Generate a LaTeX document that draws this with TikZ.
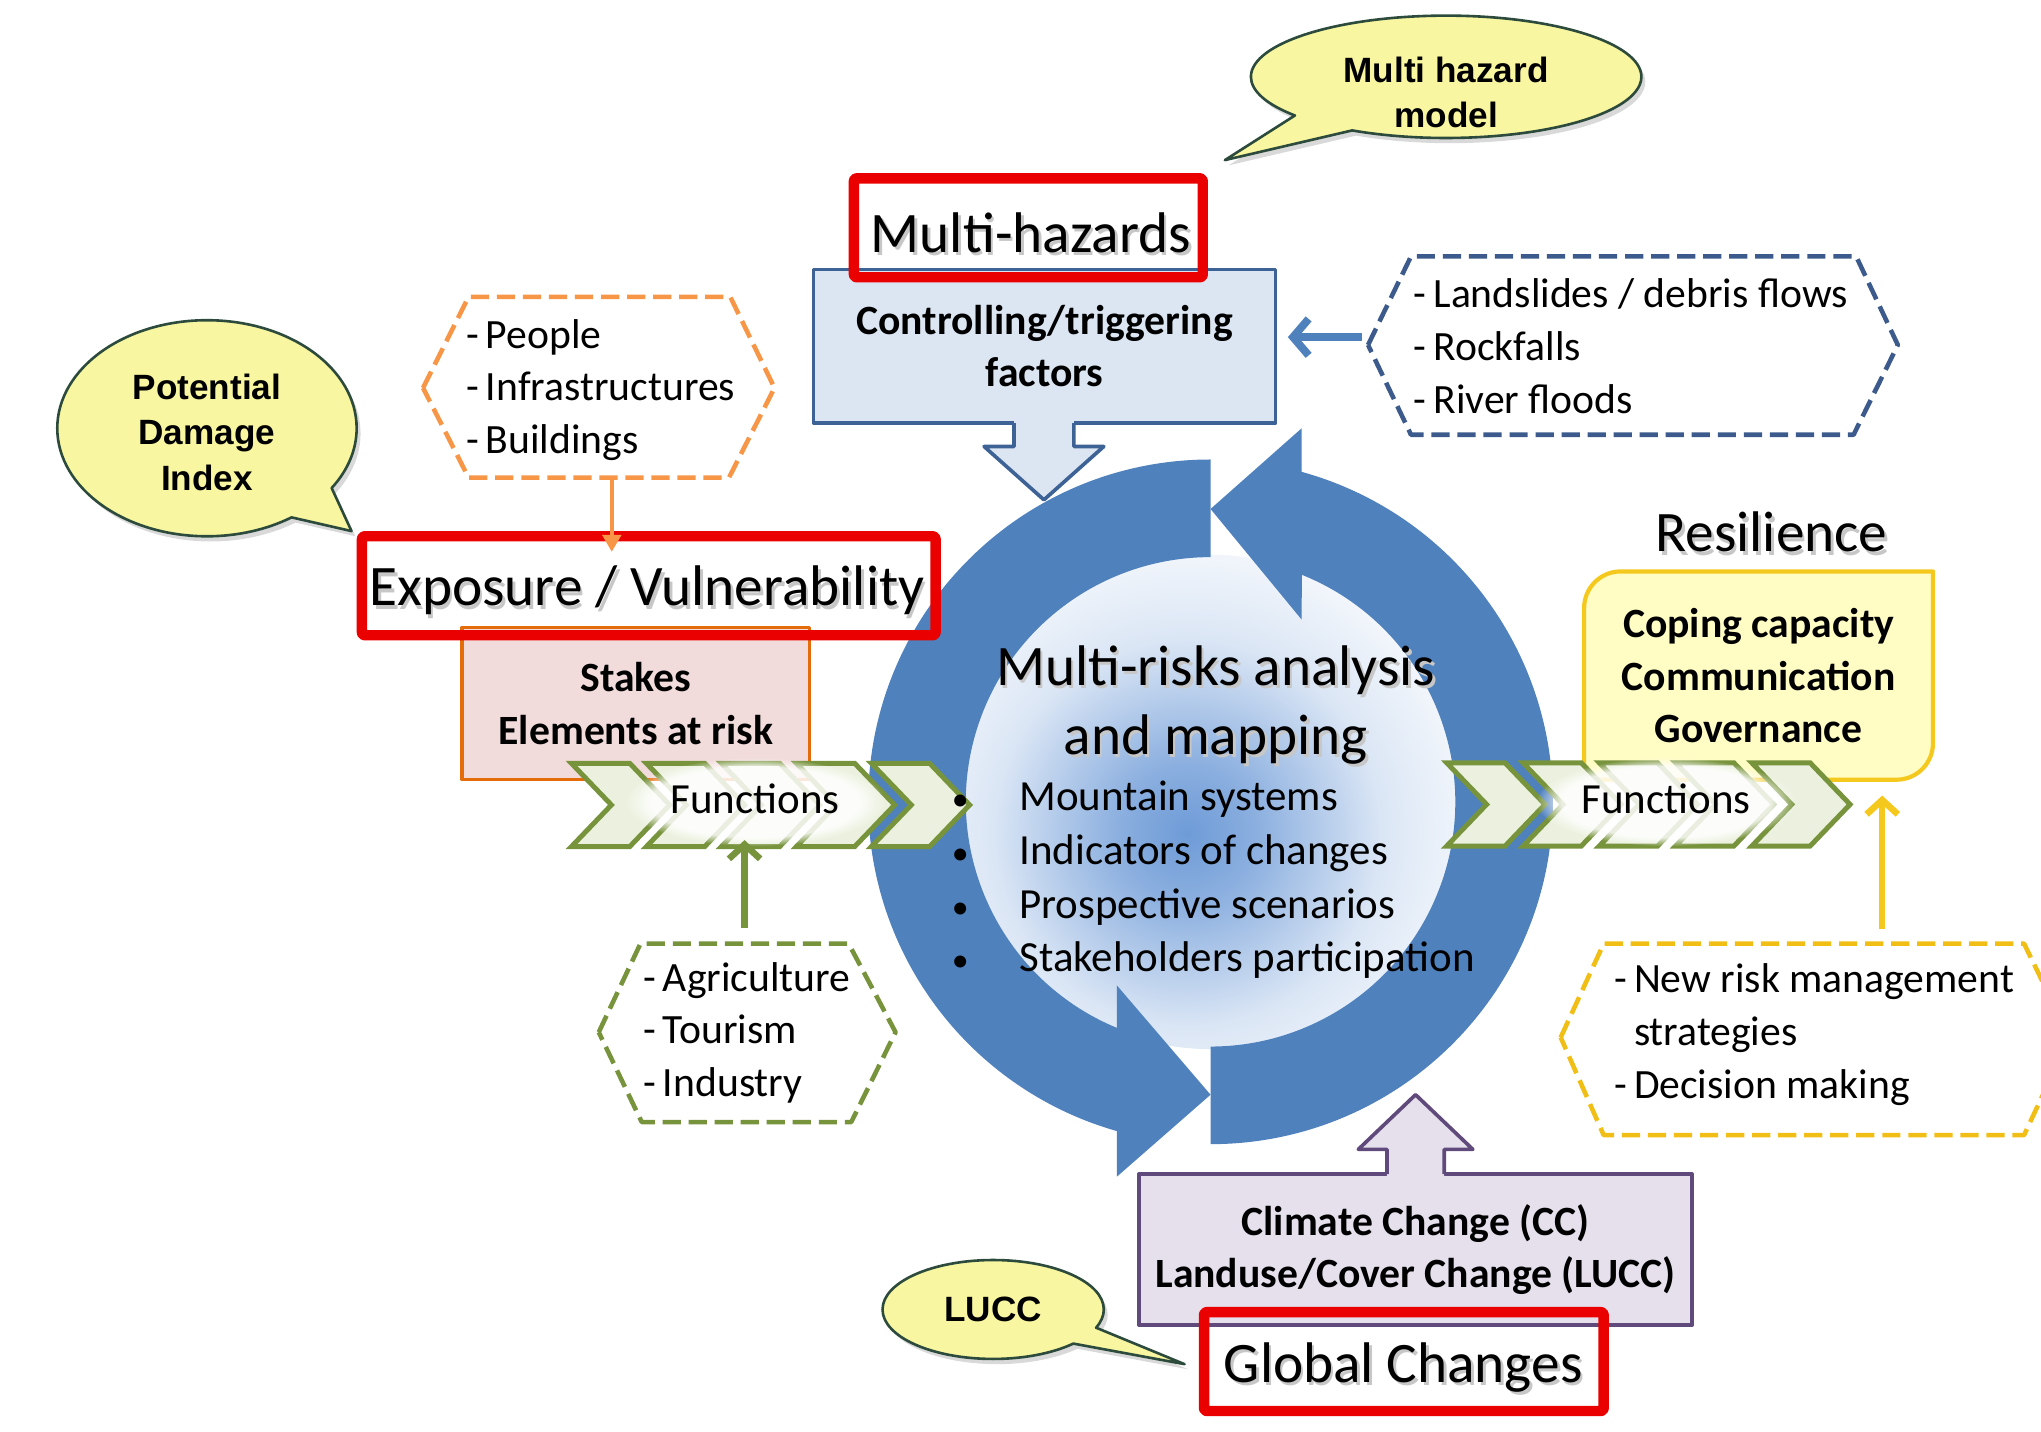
\documentclass[tikz,border=0pt]{standalone}
\usepackage{fontspec}
\setmainfont{Carlito}
\newfontfamily\bubblefont{Liberation Sans}
\usetikzlibrary{arrows.meta,shapes.callouts,shapes.geometric,shadows,calc,fadings}
\definecolor{ringblue}{RGB}{79,129,189}
\definecolor{ctrlfill}{RGB}{220,230,242}
\definecolor{ctrlline}{RGB}{60,98,150}
\definecolor{bhexline}{RGB}{60,90,140}
\definecolor{ohexline}{RGB}{247,150,70}
\definecolor{stakefill}{RGB}{242,220,219}
\definecolor{stakeline}{RGB}{228,108,10}
\definecolor{chevfill}{RGB}{235,241,222}
\definecolor{chevline}{RGB}{119,147,60}
\definecolor{yfill}{RGB}{255,252,196}
\definecolor{yline}{RGB}{245,200,30}
\definecolor{yhexline}{RGB}{240,190,20}
\definecolor{purfill}{RGB}{229,224,236}
\definecolor{purline}{RGB}{96,74,123}
\definecolor{redline}{RGB}{235,0,0}
\definecolor{bubfill}{RGB}{248,246,160}
\definecolor{bubline}{RGB}{45,75,60}
\definecolor{glowc}{RGB}{110,155,215}
\colorlet{glowb}{glowc!80!white}
\colorlet{glowd}{glowc!25!white}
\pgfdeclareradialshading{glow}{\pgfpoint{0bp}{0bp}}{color(0bp)=(glowc); color(6bp)=(glowb); color(17bp)=(glowd); color(29bp)=(white); color(50bp)=(white)}
\newcommand\shd[1]{\rlap{\kern2pt\raisebox{-2.5pt}{\color{black!22}#1}}#1}
\newcommand\blt{\makebox[52pt][l]{\fontsize{26}{26}\selectfont\textbullet}}
\begin{document}
\begin{tikzpicture}[x=1pt,y=-1pt,line join=round,
  title/.style={font=\fontsize{44}{53}\selectfont, inner sep=0pt},
  redbox/.style={draw=redline, line width=8pt, rounded corners=2pt},
  bubble/.style={ellipse callout, fill=bubfill, draw=bubline, line width=2pt, inner sep=0pt, callout pointer arc=22, drop shadow={opacity=0.3, shadow xshift=3pt, shadow yshift=-4pt}},
  bubtext/.style={font=\bubblefont\bfseries\fontsize{27}{35}\selectfont, align=center, inner sep=0pt},
  listtext/.style={font=\fontsize{32}{40.5}\selectfont, align=left, anchor=west, inner sep=0pt},
  boldtext/.style={font=\bfseries\fontsize{32}{40}\selectfont, align=center, inner sep=0pt},
  hexdash/.style={dash pattern=on 14pt off 6pt, line width=3.5pt},
  chev/.style={fill=chevfill, draw=chevline, line width=3.8pt, line join=miter},
  funtext/.style={font=\fontsize{33}{40}\selectfont, inner sep=0pt},
  funglow/.style={fill=white, fill opacity=0.85, path fading=circle with fuzzy edge 20 percent}
]
\path[use as bounding box] (0,0) rectangle (1568,1100);

% inner glow
\begin{scope}
\clip (930,616) circle[radius=190];
\shade[shading=glow] (912,640) circle[radius=220];
\end{scope}

% ring arrows
\fill[ringblue] (930,616) ++(270:263) arc[start angle=270, end angle=105.9, radius=263]
  -- (858,904) -- (930,841) -- (858,757) -- ($(930,616)+(112.5:188)$)
  arc[start angle=112.5, end angle=270, radius=188] -- cycle;
\fill[ringblue] (930,616) ++(90:263) arc[start angle=90, end angle=-74.56, radius=263]
  -- (1000,329) -- (930,391) -- (1000,476) -- ($(930,616)+(-68.1:188)$)
  arc[start angle=-68.1, end angle=90, radius=188] -- cycle;

% controlling box with down arrow
\node[draw=ctrlline, fill=ctrlfill, line width=2.8pt, minimum width=355pt, minimum height=118pt, boldtext] (ctrl) at (802.5,266) {Controlling/triggering\\factors};
\fill[ctrlfill] (779,322) -- (779,343) -- (756,343) -- (802,384) -- (848,343) -- (825,343) -- (825,322) -- cycle;
\draw[ctrlline, line width=2.8pt] (779,325) -- (779,343) -- (756,343) -- (802,384) -- (848,343) -- (825,343) -- (825,325);

% blue hexagon
\draw[hexdash, bhexline] (1051,265) -- (1084,197) -- (1426,197) -- (1458,265) -- (1424,334) -- (1084,334) -- cycle;
\node[listtext] (bhext) at (1086,266) {-\,Landslides / debris flows\\-\,Rockfalls\\-\,River floods};
\coordinate (bhexL) at (1046,259);
\draw[ringblue, line width=6pt, -{Straight Barb[length=12pt,width=28pt]}, shorten >=8pt] (bhexL) -- (bhexL -| ctrl.east);

% Multi-hazards
\node[redbox, minimum width=268pt, minimum height=76pt] (mhbox) at (790,175) {};
\node[title, anchor=base] (mhtext) at (792,194) {\shd{Multi-hazards}};
\node[bubble, minimum width=300pt, minimum height=94pt, callout absolute pointer={([shift={(13,-10)}]mhbox.north east)}] (mhbub) at (1111,59) {};
\node[bubtext] (mhbubt) at (1111,71) {Multi hazard\\model};

% orange hexagon
\draw[hexdash, ohexline] (325,298) -- (360,228) -- (561,228) -- (595,298) -- (560,367) -- (360,367) -- cycle;
\node[listtext] (ohext) at (358,299.5) {-\,People\\-\,Infrastructures\\-\,Buildings};
\coordinate (ohexB) at (470,367);

% stakes
\node[draw=stakeline, fill=stakefill, line width=2.5pt, minimum width=267pt, minimum height=117pt, boldtext] (stakes) at (488.5,540.5) {Stakes\\Elements at risk};

% Exposure
\node[redbox, minimum width=440.7pt, minimum height=76pt] (expo) at (498.4,450) {};
\node[title, anchor=base] (expot) at (497,465.5) {\shd{Exposure / Vulnerability}};
\draw[ohexline, line width=3.5pt, -{Triangle[length=13pt,width=14pt]}, shorten >=-16pt] (ohexB) -- (ohexB |- expo.north);
\node[bubble, minimum width=230pt, minimum height=166pt, callout absolute pointer={([shift={(-4,0)}]expo.north west)}] (pdibub) at (159,329) {};
\node[bubtext] (pdibubt) at (159,332) {Potential\\Damage\\Index};

% left chevrons
\foreach \i in {0,...,4} {
  \pgfmathsetmacro\xo{439+57.6*\i}
  \draw[chev] (\xo,586.4) -- ++(44.8,0) -- ++(30.7,32) -- ++(-30.7,32) -- ++(-44.8,0) -- ++(30.7,-32) -- cycle;
}
\fill[funglow] (580,616) ellipse[x radius=100, y radius=34];
\node[funtext] (lfun) at (580,614) {Functions};
\coordinate (lchainB) at (572,650.4);

% green hexagon
\draw[hexdash, chevline] (460,793) -- (492,725) -- (652,725) -- (688,793) -- (654,862) -- (493,862) -- cycle;
\node[listtext] (ghext) at (494,793.5) {-\,Agriculture\\-\,Tourism\\-\,Industry};
\coordinate (ghexT) at (572,713);
\draw[chevline, line width=5pt, -{Straight Barb[length=11pt,width=24pt]}, shorten >=-5pt] (ghexT) -- (lchainB);

% resilience
\node[title, anchor=base] (resil) at (1361,424) {\shd{Resilience}};
\draw[fill=yfill, draw=yline, line width=3.2pt] (1217,599) -- (1217,467) arc[start angle=180, end angle=270, radius=28] -- (1485,439) -- (1485,571) arc[start angle=0, end angle=90, radius=28] -- cycle;
\node[boldtext, minimum width=268pt, minimum height=160pt] (yb) at (1351,519) {Coping capacity\\Communication\\Governance};

% right chevrons
\foreach \i in {0,...,4} {
  \pgfmathsetmacro\xo{1111.4+58.6*\i}
  \draw[chev] (\xo,586) -- ++(44.8,0) -- ++(30.7,32) -- ++(-30.7,32) -- ++(-44.8,0) -- ++(30.7,-32) -- cycle;
}
\fill[funglow] (1280,616) ellipse[x radius=100, y radius=34];
\node[funtext] (rfun) at (1280,614) {Functions};

% yellow hexagon
\begin{scope}
\clip (0,0) rectangle (1568,1100);
\draw[hexdash, yhexline] (1199,797) -- (1232,725) -- (1555,725) -- (1590,797) -- (1555,872) -- (1232,872) -- cycle;
\end{scope}
\node[listtext] (yhext) at (1240,795) {-\,New risk management\\\phantom{-\,}strategies\\-\,Decision making};
\coordinate (yhexT) at (1446,714);
\draw[yline, line width=5pt, -{Straight Barb[length=11pt,width=24pt]}, shorten >=12pt] (yhexT) -- (yhexT |- yb.south);

% global changes
\node[draw=purline, fill=purfill, line width=2.8pt, minimum width=425pt, minimum height=116pt, boldtext] (gcbox) at (1087.5,960) {Climate Change (CC)\\Landuse/Cover Change (LUCC)};
\fill[purfill] (1065.5,905) -- (1065.5,883) -- (1043.5,883) -- (1087.5,841) -- (1131.5,883) -- (1109.5,883) -- (1109.5,905) -- cycle;
\draw[purline, line width=2.8pt] (1065.5,902) -- (1065.5,883) -- (1043.5,883) -- (1087.5,841) -- (1131.5,883) -- (1109.5,883) -- (1109.5,902);
\node[redbox, minimum width=307pt, minimum height=76pt] (gc) at (1078.5,1046) {};
\node[title, anchor=base] (gct) at (1078,1062) {\shd{Global Changes}};
\node[bubble, minimum width=170pt, minimum height=76pt, callout absolute pointer={([shift={(-11,2)}]gc.west)}] (luccbub) at (763,1006) {};
\node[bubtext] (luccbubt) at (763,1006) {LUCC};

% centre text
\node[title, align=center] (mrtitle) at (934,543) {\shd{Multi-risks analysis}\\\shd{and mapping}};
\node[listtext, font=\fontsize{33}{41.3}\selectfont] (mrlist) at (731,676) {\blt Mountain systems\\\blt Indicators of changes\\\blt Prospective scenarios\\\blt Stakeholders participation};
\end{tikzpicture}
\end{document}
